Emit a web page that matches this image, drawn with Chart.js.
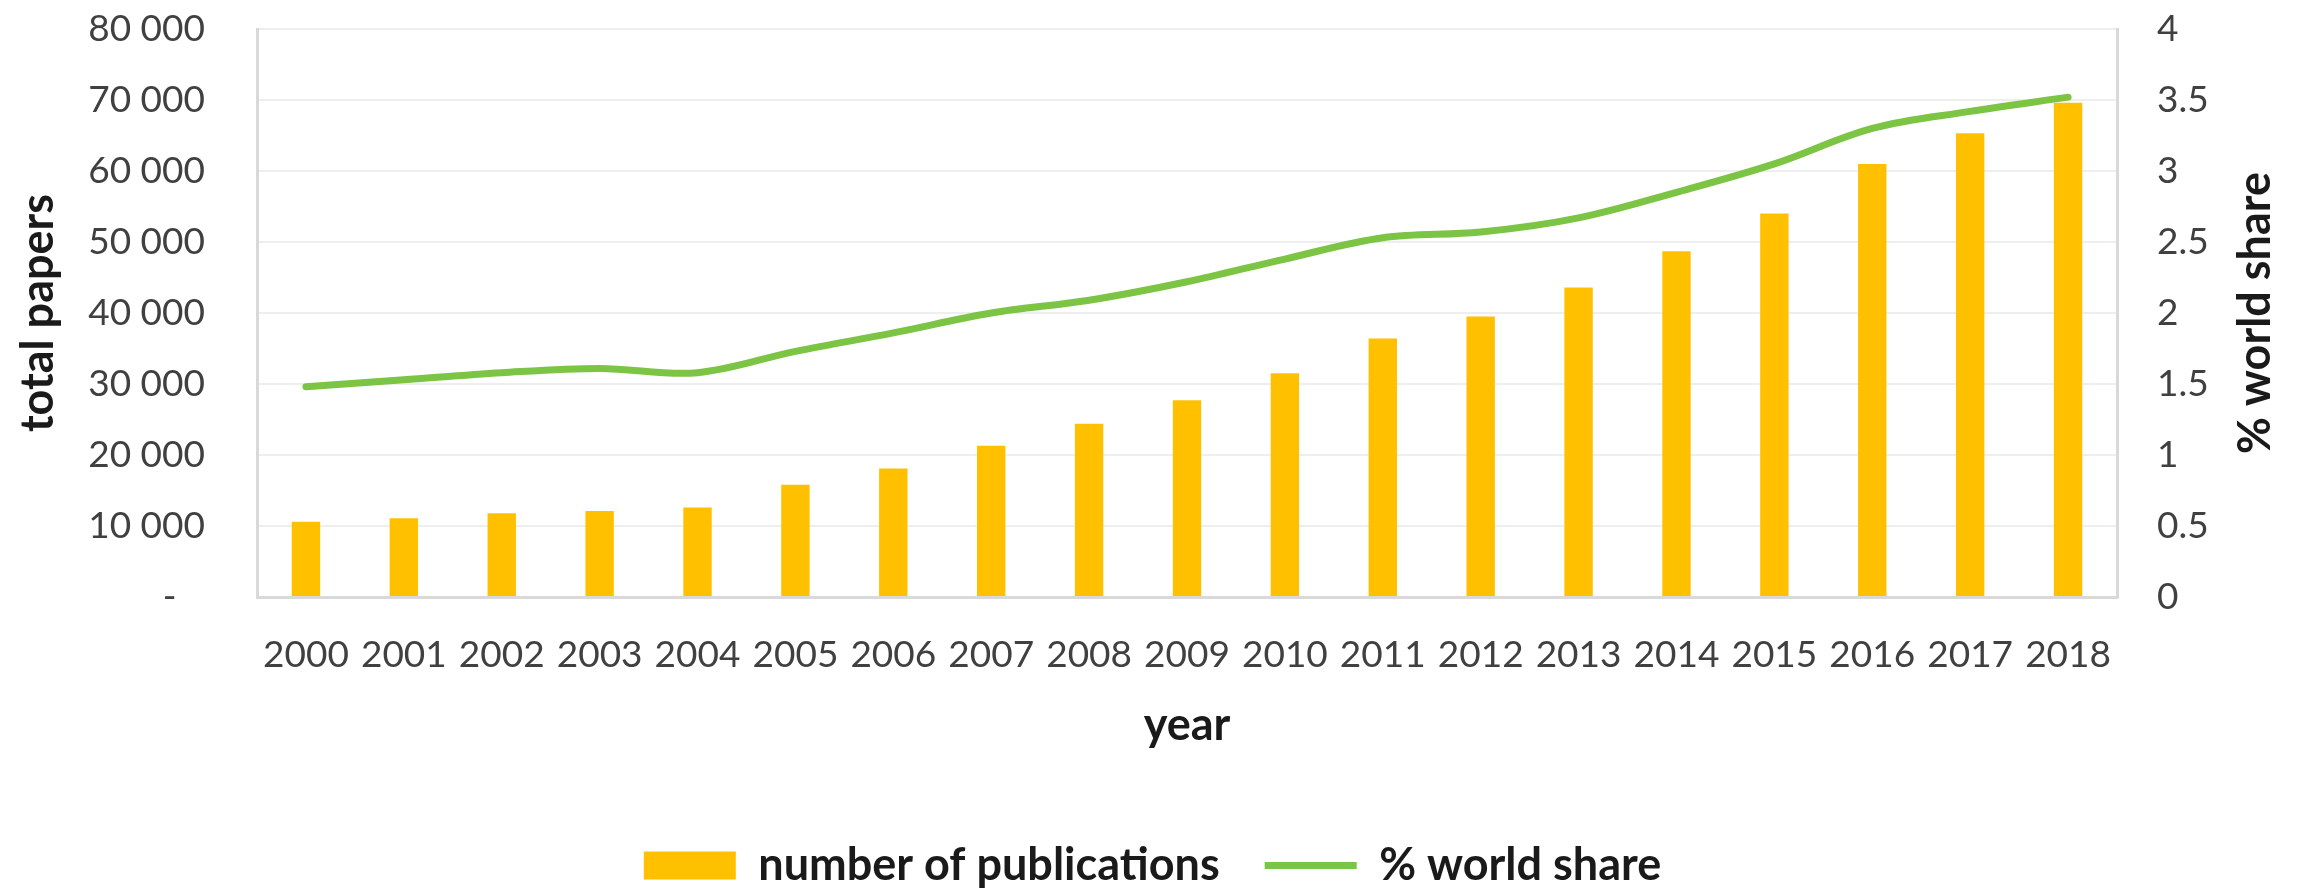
<!doctype html>
<html lang="en">
<head>
  <meta charset="utf-8">
  <title>Publications and world share</title>
  <script src="https://cdn.jsdelivr.net/npm/chart.js@4.4.0/dist/chart.umd.min.js"></script>
  <style>
    html, body { margin: 0; padding: 0; background: #fff; }
    #wrap { width: 2305px; height: 888px; position: relative; }
  </style>
</head>
<body>
  <div id="wrap">
    <canvas id="myChart"></canvas>
  </div>

  <script>
// data
var years = ["2000", "2001", "2002", "2003", "2004", "2005", "2006", "2007", "2008", "2009",
  "2010", "2011", "2012", "2013", "2014", "2015", "2016", "2017", "2018"];
var publications = [10600, 11100, 11800, 12100, 12600, 15800, 18100, 21300, 24400, 27700,
  31500, 36400, 39500, 43600, 48700, 54000, 61000, 65300, 69600];
var worldShare = [1.48, 1.53, 1.58, 1.61, 1.58, 1.73, 1.86, 2.0, 2.09, 2.22,
  2.38, 2.53, 2.57, 2.67, 2.85, 3.05, 3.3, 3.42, 3.52];
var seriesNames = ["number of publications", "% world share"];
var leftTitle = "total papers";
var rightTitle = "% world share";
var bottomTitle = "year";

var FONT = "Lato";
var tickColor = "#404040";
var titleColor = "#1a1a1a";
var axisGray = "#D9D9D9";

function spaced(v) {
  if (v === 0) return "-   ";
  return String(v).replace(/\B(?=(\d{3})+(?!\d))/g, " ");
}

// right axis title reads bottom-to-top in the original, so draw it ourselves
var rightTitlePlugin = {
  id: "rightTitle",
  afterDraw: function(chart) {
    var ctx = chart.ctx;
    var area = chart.chartArea;
    var s = chart.scales.y2;
    ctx.save();
    ctx.translate(s.right - 50, (area.top + area.bottom) / 2);
    ctx.rotate(-Math.PI / 2);
    ctx.font = "bold 45px " + FONT;
    ctx.fillStyle = titleColor;
    ctx.textAlign = "center";
    ctx.textBaseline = "middle";
    ctx.fillText(rightTitle, 0, 0);
    ctx.restore();
  }
};

// keep the legend box short
var legendHeight = {
  id: "legendHeight",
  afterInit: function(chart) {
    var lg = chart.legend;
    var fit = lg.fit;
    lg.fit = function() {
      fit.call(this);
      this.height = 90;
    };
  }
};

var ctx = document.getElementById("myChart").getContext("2d");
var chart = new Chart(ctx, {
  type: "bar",
  data: {
    labels: years,
    datasets: [
      {
        label: seriesNames[0],
        data: publications,
        backgroundColor: "#FFC000",
        borderWidth: 0,
        barPercentage: 0.29,
        categoryPercentage: 1,
        pointStyle: "rect",
        yAxisID: "y",
        order: 1
      },
      {
        type: "line",
        label: seriesNames[1],
        data: worldShare,
        borderColor: "#7CC444",
        backgroundColor: "#7CC444",
        borderWidth: 7,
        borderCapStyle: "round",
        tension: 0.35,
        pointRadius: 0,
        pointStyle: "line",
        yAxisID: "y2",
        order: 0
      }
    ]
  },
  options: {
    responsive: true,
    maintainAspectRatio: false,
    devicePixelRatio: 1,
    animation: false,
    layout: { padding: { top: 29, left: 0, right: 0, bottom: 0 } },
    plugins: {
      tooltip: { enabled: false },
      legend: {
        position: "bottom",
        labels: {
          usePointStyle: true,
          pointStyleWidth: 92,
          boxHeight: 28,
          padding: 45,
          color: titleColor,
          font: { family: FONT, size: 45, weight: "bold" },
          sort: function(a, b) { return a.datasetIndex - b.datasetIndex; }
        }
      }
    },
    scales: {
      x: {
        grid: { display: false, drawTicks: false },
        border: { color: axisGray, width: 3 },
        ticks: {
          color: tickColor,
          font: { family: FONT, size: 37 },
          padding: 36,
          maxRotation: 0,
          autoSkip: false
        },
        title: {
          display: true,
          text: bottomTitle,
          color: titleColor,
          font: { family: FONT, size: 45, weight: "bold" },
          padding: { top: 0, bottom: 46 }
        },
        afterFit: function(s) {
          s.height = 201;
          s.paddingLeft = 0;
          s.paddingRight = 0;
        }
      },
      y: {
        position: "left",
        min: 0,
        max: 80000,
        ticks: {
          stepSize: 10000,
          color: tickColor,
          font: { family: FONT, size: 37 },
          padding: 52,
          callback: function(v) { return spaced(v); }
        },
        grid: { color: "#EEEEEE", lineWidth: 2, drawTicks: false },
        border: { color: axisGray, width: 3 },
        title: {
          display: true,
          text: leftTitle,
          color: titleColor,
          font: { family: FONT, size: 45, weight: "bold" },
          padding: { top: 11, bottom: 0 }
        },
        afterFit: function(s) {
          s.width = 257;
          s.paddingTop = 0;
          s.paddingBottom = 0;
        }
      },
      y2: {
        position: "right",
        min: 0,
        max: 4,
        ticks: {
          stepSize: 0.5,
          color: tickColor,
          font: { family: FONT, size: 37 },
          padding: 40,
          callback: function(v) { return String(Number(v.toFixed(2))); }
        },
        grid: { display: false, drawTicks: false },
        border: { color: axisGray, width: 3 },
        afterFit: function(s) {
          s.width = 188;
          s.paddingTop = 0;
          s.paddingBottom = 0;
        }
      }
    }
  },
  plugins: [rightTitlePlugin, legendHeight]
});
  </script>
</body>
</html>
